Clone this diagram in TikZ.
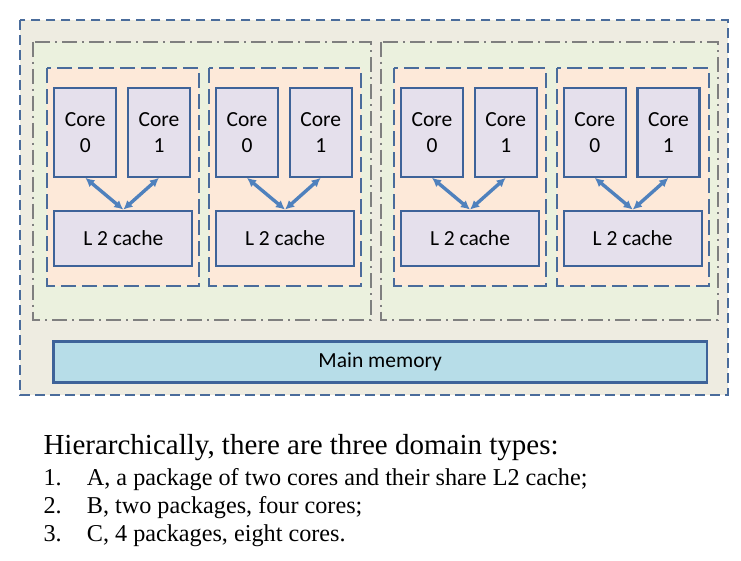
\documentclass[tikz,border=0pt]{standalone}
\usepackage{fontspec}
\setmainfont{Liberation Serif}
\newfontfamily\calibfont{Carlito}
\usetikzlibrary{arrows.meta, calc, positioning}
\definecolor{sandfill}{HTML}{EEECE1}
\definecolor{greenfill}{HTML}{EBF1DE}
\definecolor{peachfill}{HTML}{FDE9D9}
\definecolor{lilacfill}{HTML}{E5E0EC}
\definecolor{memfill}{HTML}{B7DDE8}
\definecolor{dashblue}{HTML}{4A6C9B}
\definecolor{boxblue}{HTML}{3E6399}
\definecolor{linkblue}{HTML}{4F81BD}
\definecolor{dotgray}{HTML}{7F7F7F}

\tikzset{
	unit/.style={draw=boxblue, line width=2.2pt, fill=lilacfill, inner sep=0pt, align=center,
		font=\calibfont\fontsize{21.5}{25.6}\selectfont},
	core/.style={unit, minimum width=62pt, minimum height=88.4pt},
	cache/.style={unit, minimum width=138pt, minimum height=55pt},
	link/.style={linkblue, line width=3.4pt, {Latex[length=9pt,width=9pt]}-{Latex[length=9pt,width=9pt]}},
	pkgbox/.style={draw=dashblue, line width=2.3pt, fill=peachfill, dash pattern=on 15pt off 6pt},
	dombox/.style={draw=dotgray, line width=2pt, fill=greenfill, dash pattern=on 15pt off 5pt on 2pt off 5pt},
	listtext/.style={anchor=base west, inner sep=0pt, font=\fontsize{24.2}{28}\selectfont}
}

\begin{document}
\begin{tikzpicture}[x=1pt, y=-1pt]
	\fill[white] (0,0) rectangle (741,560);
	\useasboundingbox (0,0) rectangle (741,560);
	
	\draw[draw=dashblue, line width=2.2pt, fill=sandfill, dash pattern=on 9.5pt off 5.5pt] (20,20) rectangle (727.7,395);
	\draw[dombox] (33.3,41.7) rectangle (370.7,320);
	\draw[dombox] (380.7,41.7) rectangle (718.3,320);
	
	\foreach \px [count=\i] in {47.3,209,394,556.7}{
		\draw[pkgbox] (\px,68.3) rectangle ++(152,217.4);
		\node[core] (core0-\i) at (\px+38,132.5) {Core\\0};
		\node[core] (core1-\i) at (\px+111.7,132.5) {Core\\1};
		\node[cache] (cache-\i) at (\px+76,238.2) {L 2 cache};
		\draw[link] (core0-\i.south) -- (cache-\i.north);
		\draw[link] (core1-\i.south) -- (cache-\i.north);
	}
	
	\node[unit, fill=memfill, minimum width=653.6pt, minimum height=41pt] (mem) at (380.2,362) {Main memory};
	
	\node[listtext, font=\fontsize{29}{34}\selectfont] (title) at (43.3,454) {Hierarchically, there are three domain types:};
	\node[listtext] (num1) at (43.3,485.7) {1.};
	\node[listtext] (item1) at (86.7,485.7) {A, a package of two cores and their share L2 cache;};
	\node[listtext] (num2) at (43.3,513.3) {2.};
	\node[listtext] (item2) at (86.7,513.3) {B, two packages, four cores;};
	\node[listtext] (num3) at (43.3,541.7) {3.};
	\node[listtext] (item3) at (86.7,541.7) {C, 4 packages, eight cores.};
\end{tikzpicture}
\end{document}
